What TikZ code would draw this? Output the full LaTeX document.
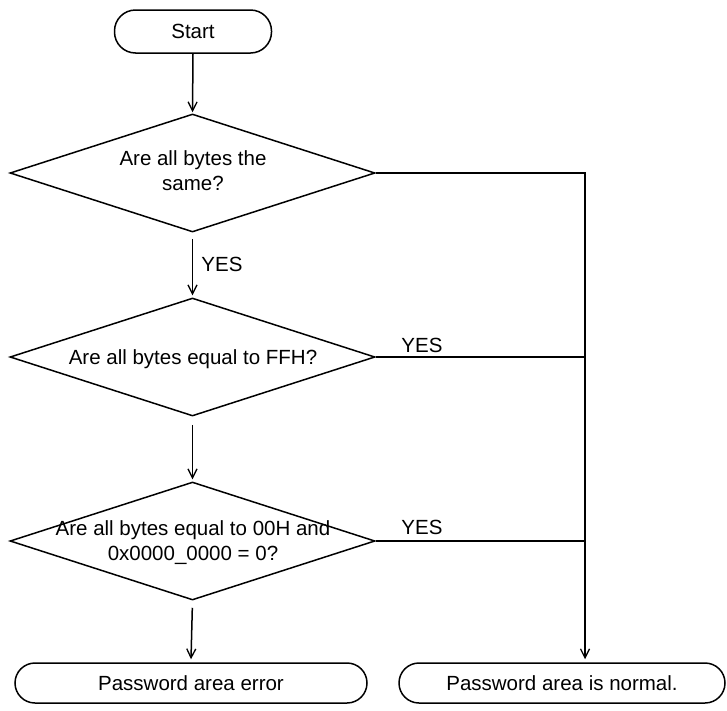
\documentclass[tikz,border=0pt]{standalone}
\usepackage{fontspec}
\setmainfont{Liberation Sans}
\usetikzlibrary{shapes.geometric,arrows.meta}
\begin{document}
\begin{tikzpicture}[x=1pt,y=-1pt,
  every node/.style={font=\fontsize{20.5}{25}\selectfont},
  line/.style={line width=1.5pt},
  arr/.style={line width=1.5pt,-{Straight Barb[length=9pt,width=9pt,line width=1.3pt]}},
  term/.style={draw,line width=1.5pt,rectangle,rounded corners=#1,inner sep=0pt},
  dia/.style={draw,line width=1.5pt,diamond,inner sep=0pt,minimum width=365pt,minimum height=118pt},
  dtext/.style={align=center,inner sep=0pt},
  lbl/.style={inner sep=0pt}]
\useasboundingbox (0,0) rectangle (727,710);
\node[term=21pt,minimum width=157pt,minimum height=43pt] (start) at (193,31.5) {Start};
\node[dia] (d1) at (192.5,173) {};
\node[dtext] (t1) at (193,171) {Are all bytes the\\same?};
\node[dia] (d2) at (192.5,357) {};
\node[dtext] (t2) at (193,359) {Are all bytes equal to FFH?};
\node[dia] (d3) at (192.5,541) {};
\node[dtext] (t3) at (193,543) {Are all bytes equal to 00H and\\0x0000\_0000 = 0?};
\node[term=20pt,minimum width=352pt,minimum height=40pt] (err) at (191,683) {Password area error};
\node[term=20pt,minimum width=326pt,minimum height=40pt] (ok) at (562,683) {Password area is normal.};
\coordinate (jx) at (585,0);
\draw[arr] (start.south) -- ([yshift=1pt]d1.north);
\draw[arr,shorten <=6pt] (d1.south) -- ([yshift=2pt]d2.north);
\draw[arr,shorten <=8pt] (d2.south) -- ([yshift=2pt]d3.north);
\draw[arr,shorten <=7pt] (d3.south) -- ([yshift=3pt]err.north);
\draw[arr] (d1.east) -- (d1.east -| jx) -- ([yshift=3pt]jx |- ok.north);
\draw[line] (d2.east) -- (d2.east -| jx);
\draw[line] (d3.east) -- (d3.east -| jx);
\node[lbl] (y1) at (222,264) {YES};
\node[lbl] (y2) at (422,345) {YES};
\node[lbl] (y3) at (422,527) {YES};
\end{tikzpicture}
\end{document}
